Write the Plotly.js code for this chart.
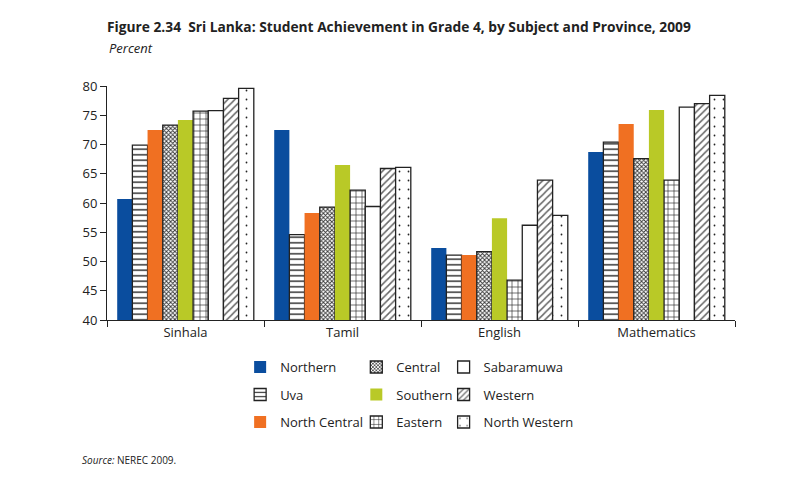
<!DOCTYPE html>
<html><head><meta charset="utf-8">
<script src="https://cdn.plot.ly/plotly-3.0.1.min.js"></script>
<style>body{margin:0;background:#fff}#chart{width:810px;height:478px}</style>
</head><body><div id="chart"></div>
<script>
const subjects = ["Sinhala", "Tamil", "English", "Mathematics"];
const provinces = ["Northern", "Uva", "North Central", "Central", "Southern", "Eastern", "Sabaramuwa", "Western", "North Western"];
const northern     = [60.7, 72.5, 52.3, 68.7];
const uva          = [69.9, 54.6, 51.1, 70.4];
const northCentral = [72.5, 58.3, 51.1, 73.5];
const central      = [73.3, 59.3, 51.7, 67.6];
const southern     = [74.2, 66.5, 57.4, 75.9];
const eastern      = [75.7, 62.2, 46.8, 63.9];
const sabaramuwa   = [75.8, 59.4, 56.2, 76.4];
const western      = [77.9, 65.9, 63.9, 77.0];
const northWestern = [79.6, 66.1, 57.9, 78.4];
const yTicks = [40, 45, 50, 55, 60, 65, 70, 75, 80];

const series = [northern, uva, northCentral, central, southern, eastern, sabaramuwa, western, northWestern];
const styles = [
  {color:"#0a4d9e", line:0, legend:"legend"},
  {color:"#ffffff", line:1.3, pattern:{shape:"-", size:5.5, solidity:0.25, fgcolor:"#222", bgcolor:"#fff"}, legend:"legend"},
  {color:"#f07022", line:0, legend:"legend"},
  {color:"#ffffff", line:1.3, pattern:{shape:"x", size:3, solidity:0.5, fgcolor:"#333", bgcolor:"#fff"}, legend:"legend2"},
  {color:"#b9c927", line:0, legend:"legend2"},
  {color:"#ffffff", line:1.3, pattern:{shape:"+", size:6, solidity:0.2, fgcolor:"#222", bgcolor:"#fff"}, legend:"legend2"},
  {color:"#ffffff", line:1.3, legend:"legend3"},
  {color:"#ffffff", line:1.3, pattern:{shape:"/", size:5, solidity:0.3, fgcolor:"#666", bgcolor:"#fff"}, legend:"legend3"},
  {color:"#ffffff", line:1.3, pattern:{shape:".", size:9, solidity:0.03, fgcolor:"#222", bgcolor:"#fff"}, legend:"legend3"}
];

const data = series.map((vals, i) => {
  const s = styles[i];
  const marker = {color: s.color, line: {width: s.line, color: "#222"}};
  if (s.pattern) marker.pattern = s.pattern;
  return {
    type: "bar", name: provinces[i], x: subjects, y: vals,
    marker: marker, legend: s.legend, legendgroup: "g" + i,
    hoverinfo: "name+y"
  };
});

const font = "Open Sans, Arial, sans-serif";
const legBase = {orientation:"v", yanchor:"top", xanchor:"left", y:-0.137, traceorder:"grouped",
  tracegroupgap:7.6, font:{family:font, size:13, color:"#222"}, bgcolor:"rgba(0,0,0,0)", itemwidth:30};

const layout = {
  width: 810, height: 478,
  margin: {l:107, r:75, t:86, b:158},
  paper_bgcolor: "#fff", plot_bgcolor: "#fff",
  font: {family: font, size: 13, color: "#222"},
  title: {text: "<b>Figure 2.34  Sri Lanka: Student Achievement in Grade 4, by Subject and Province, 2009</b>",
    font: {family: font, size: 13.75, color: "#222"}, xref: "paper", x: 0, xanchor: "left",
    yref: "container", y: 1 - 27/478, yanchor: "middle"},
  barmode: "group", bargap: 0.13, bargroupgap: 0,
  xaxis: {showline:true, linecolor:"#222", linewidth:1, ticks:"outside", tickson:"boundaries",
    ticklen:6, tickcolor:"#222", showgrid:false, tickfont:{size:13, color:"#222"}},
  yaxis: {range:[40,80], tickvals:yTicks, showline:true, linecolor:"#222", linewidth:1,
    ticks:"outside", ticklen:6, tickcolor:"#222", showgrid:false, zeroline:false,
    tickfont:{size:13, color:"#222"}},
  legend: Object.assign({}, legBase, {x: 0.212}),
  legend2: Object.assign({}, legBase, {x: 0.397}),
  legend3: Object.assign({}, legBase, {x: 0.536}),
  annotations: [
    {text:"<i>Percent</i>", xref:"paper", yref:"paper", x:0, y:(320-48)/234, xanchor:"left", yanchor:"middle",
     showarrow:false, font:{family:font, size:13, color:"#222"}},
    {text:"<i>Source:</i> NEREC 2009.", xref:"paper", yref:"paper", x:(80-107)/628, y:(320-460)/234,
     xanchor:"left", yanchor:"middle", showarrow:false, font:{family:font, size:10, color:"#222"}}
  ],
  showlegend: true
};

Plotly.newPlot("chart", data, layout, {displayModeBar:false, staticPlot:true});
</script></body></html>
